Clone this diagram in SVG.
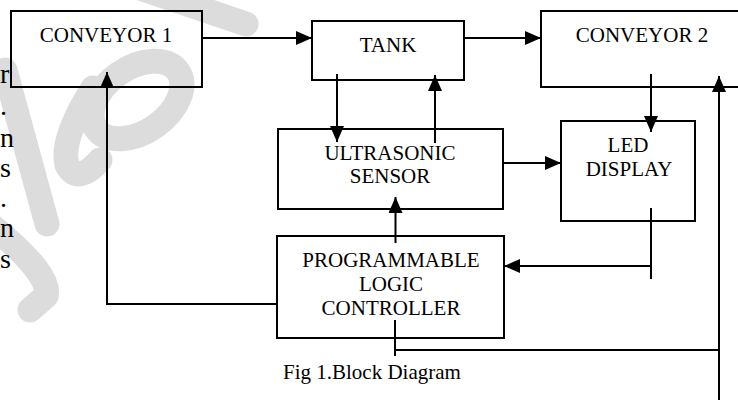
<svg xmlns="http://www.w3.org/2000/svg" width="738" height="400" viewBox="0 0 738 400">
  <style>
    .wm { fill: none; stroke: #dcdcdc; stroke-width: 25; stroke-linecap: round; stroke-linejoin: round; }
    .box { fill: none; stroke: #000; stroke-width: 2; }
    .lbl { font-family: "Liberation Serif", "Times New Roman", serif; font-size: 21px; fill: #000; text-anchor: middle; }
    .stray { font-family: "Liberation Serif", "Times New Roman", serif; font-size: 28px; fill: #000; }
    .cap { font-family: "Liberation Serif", "Times New Roman", serif; font-size: 21px; fill: #000; }
    .ln { fill: none; stroke: #000; stroke-width: 2; }
    .arr { fill: none; stroke: #000; stroke-width: 2; marker-end: url(#ah); }
  </style>
  <defs>
    <marker id="ah" markerUnits="userSpaceOnUse" markerWidth="16" markerHeight="14" refX="16" refY="7" orient="auto">
      <path d="M0,0 L16,7 L0,14 z" fill="#000"/>
    </marker>
  </defs>
  <rect width="738" height="400" fill="#fff"/>

  <!-- watermark (approximate) -->
  <g id="watermark">
    <line class="wm" x1="140" y1="-12" x2="246" y2="24"/>
    <ellipse class="wm" cx="137" cy="100" rx="50" ry="32" transform="rotate(-35 137 100)"/>
    <path class="wm" d="M93,88 Q60,140 67,165 Q78,185 100,160"/>
    <line class="wm" x1="5" y1="70" x2="47" y2="224"/>
    <path class="wm" d="M-8,226 Q52,275 46,296 L30,310"/>
  </g>

  <!-- stray body text fragments -->
  <g id="stray-text">
    <text class="stray" x="0" y="83">r</text>
    <text class="stray" x="0" y="115">.</text>
    <text class="stray" x="0" y="147">n</text>
    <text class="stray" x="0" y="177">s</text>
    <text class="stray" x="0" y="207">.</text>
    <text class="stray" x="0" y="237">n</text>
    <text class="stray" x="0" y="268">s</text>
  </g>

  <g id="conveyor1">
    <rect class="box" x="11" y="11" width="191" height="76"/>
    <text class="lbl" x="106" y="42">CONVEYOR 1</text>
  </g>
  <g id="tank">
    <rect class="box" x="312" y="21" width="152" height="59"/>
    <text class="lbl" x="388" y="52">TANK</text>
  </g>
  <g id="conveyor2">
    <rect class="box" x="541" y="11" width="210" height="76"/>
    <text class="lbl" x="642" y="42">CONVEYOR 2</text>
  </g>
  <g id="led-display">
    <rect class="box" x="561" y="121" width="134" height="100"/>
    <text class="lbl" x="628" y="152">LED</text>
    <text class="lbl" x="629" y="176">DISPLAY</text>
  </g>
  <g id="ultrasonic-sensor">
    <rect class="box" x="278" y="129" width="225" height="80"/>
    <text class="lbl" x="390" y="160">ULTRASONIC</text>
    <text class="lbl" x="390" y="183">SENSOR</text>
  </g>
  <g id="plc">
    <rect class="box" x="277" y="236" width="227" height="102"/>
    <text class="lbl" x="391" y="267">PROGRAMMABLE</text>
    <text class="lbl" x="391" y="291">LOGIC</text>
    <text class="lbl" x="391" y="315">CONTROLLER</text>
  </g>

  <g id="connectors">
    <path class="arr" d="M202,38 L312,38"/>
    <path class="arr" d="M464,38 L541,38"/>
    <path class="arr" d="M651,74 L651,132"/>
    <path class="arr" d="M719,400 L719,76"/>
    <path class="arr" d="M337,74 L337,142"/>
    <path class="arr" d="M435,143 L435,75"/>
    <path class="arr" d="M503,163 L561,163"/>
    <path class="arr" d="M395.5,243 L395.5,197"/>
    <path class="arr" d="M277,304 L107,304 L107,72"/>
    <path class="ln" d="M651,208 L651,279"/>
    <path class="arr" d="M652,266 L504,266"/>
    <path class="ln" d="M395,320 L395,356"/>
    <path class="ln" d="M395,350 L719,350"/>
  </g>

  <text class="cap" x="283" y="379">Fig 1.Block Diagram</text>
</svg>
